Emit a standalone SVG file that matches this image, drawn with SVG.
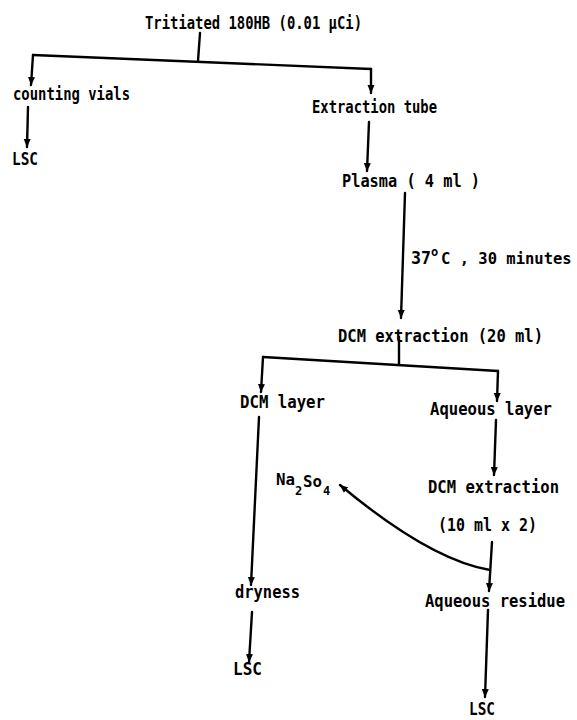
<svg xmlns="http://www.w3.org/2000/svg" width="577" height="720" viewBox="0 0 577 720">
<defs>
<marker id="ah" markerWidth="9" markerHeight="9" refX="8" refY="4.5" orient="auto" markerUnits="userSpaceOnUse">
<path d="M0,1 L8.5,4.5 L0,8 z" fill="#000"/>
</marker>
<style>
text{font-family:"DejaVu Sans Mono","Liberation Mono",monospace;font-weight:bold;font-size:17px;fill:#000}
.sm{font-size:15px}
.sub{font-size:12px}
.c{fill:none;stroke:#000;stroke-width:2.4;stroke-linecap:round}
.a{marker-end:url(#ah)}
</style>
</defs>
<rect width="577" height="720" fill="#fff"/>
<g id="connectors">
<path class="c" d="M200,33 L198,61"/>
<path class="c" d="M33,55 L371,69"/>
<path class="c a" d="M33,55 L31,85"/>
<path class="c a" d="M371,69 L371,93"/>
<path class="c a" d="M28,107 L27,147"/>
<path class="c a" d="M369,122 L367,171"/>
<path class="c a" d="M405,193 L401,318"/>
<path class="c" d="M399,337 L399,364"/>
<path class="c" d="M263,357 L498,371"/>
<path class="c a" d="M263,357 L261,392"/>
<path class="c a" d="M498,371 L497,401"/>
<path class="c a" d="M259,417 L251,585"/>
<path class="c a" d="M252,612 L249,662"/>
<path class="c a" d="M496,420 L494,475"/>
<path class="c a" d="M492,542 L489,591"/>
<path class="c a" d="M490,570 Q430,560 340,485"/>
<path class="c a" d="M488,610 L485,697"/>
</g>
<g id="n-title"><text x="145" y="29" textLength="217" lengthAdjust="spacingAndGlyphs">Tritiated 180HB (0.01 μCi)</text></g>
<g id="n-vials"><text x="13" y="100" textLength="117" lengthAdjust="spacingAndGlyphs">counting vials</text></g>
<g id="n-lsc1"><text x="12" y="165" textLength="26" lengthAdjust="spacingAndGlyphs">LSC</text></g>
<g id="n-tube"><text x="312" y="113" textLength="125" lengthAdjust="spacingAndGlyphs">Extraction tube</text></g>
<g id="n-plasma"><text x="342" y="187" textLength="138" lengthAdjust="spacingAndGlyphs">Plasma ( 4 ml )</text></g>
<g id="l-incub">
<text x="411" y="264" textLength="20" lengthAdjust="spacingAndGlyphs">37</text>
<text class="sub" x="431" y="256">o</text>
<text x="441" y="264" style="font-size:15.5px">C , 30 minutes</text>
</g>
<g id="n-dcm1"><text x="338" y="342" textLength="205" lengthAdjust="spacingAndGlyphs">DCM extraction (20 ml)</text></g>
<g id="n-dcmlayer"><text x="240" y="408" textLength="85" lengthAdjust="spacingAndGlyphs">DCM layer</text></g>
<g id="n-aqlayer"><text x="430" y="415" textLength="122" lengthAdjust="spacingAndGlyphs">Aqueous layer</text></g>
<g id="n-dcm2"><text x="428" y="493" textLength="131" lengthAdjust="spacingAndGlyphs">DCM extraction</text><text x="438" y="531" textLength="99" lengthAdjust="spacingAndGlyphs">(10 ml x 2)</text></g>
<g id="n-na2so4">
<text class="sm" x="276" y="485" textLength="19" lengthAdjust="spacingAndGlyphs">Na</text>
<text class="sub" x="295" y="495">2</text>
<text class="sm" x="303" y="487" textLength="19" lengthAdjust="spacingAndGlyphs">So</text>
<text class="sub" x="323" y="495">4</text>
</g>
<g id="n-dryness"><text x="235" y="598" textLength="65" lengthAdjust="spacingAndGlyphs">dryness</text></g>
<g id="n-lsc2"><text x="233" y="675" textLength="29" lengthAdjust="spacingAndGlyphs">LSC</text></g>
<g id="n-residue"><text x="425" y="607" textLength="140" lengthAdjust="spacingAndGlyphs">Aqueous residue</text></g>
<g id="n-lsc3"><text x="469" y="715" textLength="26" lengthAdjust="spacingAndGlyphs">LSC</text></g>
</svg>
